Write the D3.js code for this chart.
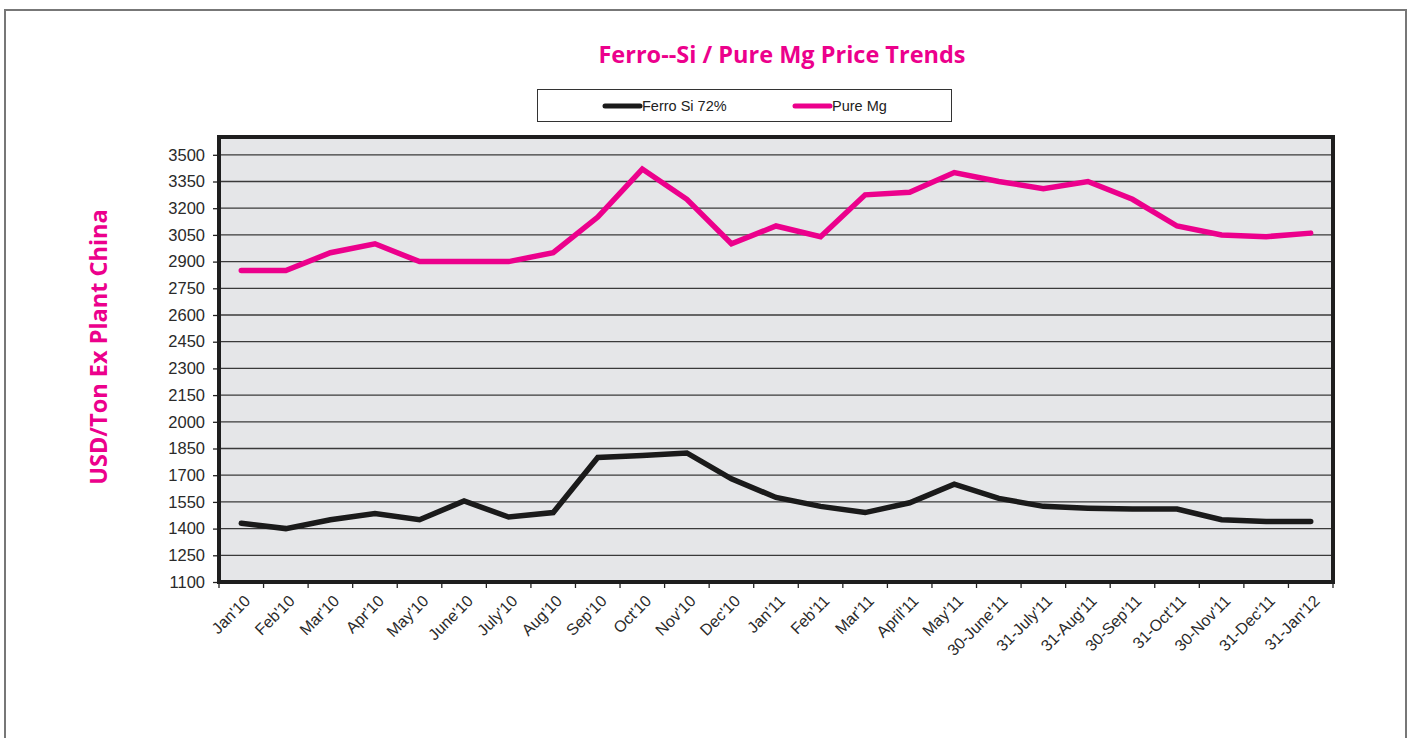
<!DOCTYPE html>
<html>
<head>
<meta charset="utf-8">
<script src="https://cdn.jsdelivr.net/npm/d3@7"></script>
<style>
  body { margin: 0; background: #fff; }
  svg { display: block; }
</style>
</head>
<body>
<div id="chart"></div>
<script>
// categories and values
const months = ["Jan'10", "Feb'10", "Mar'10", "Apr'10", "May'10", "June'10", "July'10", "Aug'10",
  "Sep'10", "Oct'10", "Nov'10", "Dec'10", "Jan'11", "Feb'11", "Mar'11", "April'11", "May'11",
  "30-June'11", "31-July'11", "31-Aug'11", "30-Sep'11", "31-Oct'11", "30-Nov'11", "31-Dec'11", "31-Jan'12"];
const ferroSi = [1430, 1400, 1450, 1485, 1450, 1555, 1465, 1490, 1800, 1810, 1825, 1680, 1575,
  1525, 1490, 1545, 1650, 1570, 1525, 1515, 1510, 1510, 1450, 1440, 1440];
const pureMg = [2850, 2850, 2950, 3000, 2900, 2900, 2900, 2950, 3150, 3420, 3250, 3000, 3100,
  3040, 3275, 3290, 3400, 3350, 3310, 3350, 3250, 3100, 3050, 3040, 3060];
const yTicks = [1100, 1250, 1400, 1550, 1700, 1850, 2000, 2150, 2300, 2450, 2600, 2750, 2900,
  3050, 3200, 3350, 3500];

const series = [
  { name: "Ferro Si 72%", values: ferroSi, color: "#1a1a1a" },
  { name: "Pure Mg", values: pureMg, color: "#ec008c" }
];

const W = 1409, H = 738;
const pink = "#ec008c";
const plot = { left: 219, top: 137, right: 1333, bottom: 582 };

const svg = d3.select("#chart").append("svg")
  .attr("width", W).attr("height", H);

// outer frame
svg.append("rect")
  .attr("x", 5).attr("y", 10).attr("width", 1401).attr("height", 760)
  .attr("fill", "none").attr("stroke", "#777").attr("stroke-width", 2);

// title
svg.append("text")
  .attr("x", 782).attr("y", 63)
  .attr("text-anchor", "middle")
  .style("font-family", "'Open Sans', sans-serif")
  .style("font-weight", "bold")
  .style("font-size", "23.5px")
  .attr("fill", pink)
  .text("Ferro--Si / Pure Mg Price Trends");

// legend
const legend = svg.append("g");
legend.append("rect")
  .attr("x", 537.5).attr("y", 89.5).attr("width", 414).attr("height", 32)
  .attr("fill", "#fff").attr("stroke", "#333").attr("stroke-width", 1);
const legX = [605, 795];
series.forEach((s, i) => {
  legend.append("line")
    .attr("x1", legX[i]).attr("x2", legX[i] + 35)
    .attr("y1", 106).attr("y2", 106)
    .attr("stroke", s.color).attr("stroke-width", 5).attr("stroke-linecap", "round");
  legend.append("text")
    .attr("x", legX[i] + 37).attr("y", 111)
    .style("font-family", "'Liberation Sans', Arial, sans-serif")
    .style("font-size", "14.5px")
    .attr("fill", "#222")
    .text(s.name);
});

// scales
const x = d3.scaleBand()
  .domain(months)
  .range([plot.left, plot.right]);

const y = d3.scaleLinear()
  .domain([1100, 3600])
  .range([plot.bottom, plot.top]);

// plot background
svg.append("rect")
  .attr("x", plot.left).attr("y", plot.top)
  .attr("width", plot.right - plot.left).attr("height", plot.bottom - plot.top)
  .attr("fill", "#e5e6e8");

// gridlines
svg.append("g")
  .selectAll("line")
  .data(yTicks.slice(1))
  .enter()
  .append("line")
  .attr("x1", plot.left).attr("x2", plot.right)
  .attr("y1", d => y(d)).attr("y2", d => y(d))
  .attr("stroke", "#3a3a3a").attr("stroke-width", 1.3);

// y axis
const yAxis = svg.append("g")
  .attr("transform", "translate(" + plot.left + ",0)")
  .call(d3.axisLeft(y).tickValues(yTicks).tickFormat(d3.format("d")).tickSize(6).tickPadding(8));
yAxis.select(".domain").remove();
yAxis.selectAll(".tick line").attr("stroke", "#222").attr("stroke-width", 1.3);
yAxis.selectAll("text")
  .style("font-family", "'Liberation Sans', Arial, sans-serif")
  .style("font-size", "16.5px")
  .attr("fill", "#2a2a2a");

// x axis: tick marks at category boundaries
const bounds = months.map(m => x(m)).concat([plot.right]);
svg.append("g")
  .selectAll("line")
  .data(bounds)
  .enter()
  .append("line")
  .attr("x1", d => d).attr("x2", d => d)
  .attr("y1", plot.bottom).attr("y2", plot.bottom + 6)
  .attr("stroke", "#222").attr("stroke-width", 1.3);

svg.append("g")
  .selectAll("text")
  .data(months)
  .enter()
  .append("text")
  .attr("transform", d => "translate(" + (x(d) + x.bandwidth() / 2 + 6) + "," + (plot.bottom + 16) + ")rotate(-45)")
  .attr("text-anchor", "end")
  .attr("dy", "0.35em")
  .style("font-family", "'Liberation Sans', Arial, sans-serif")
  .style("font-size", "16px")
  .attr("fill", "#2a2a2a")
  .text(d => d);

// y axis title
svg.append("text")
  .attr("transform", "translate(107,347)rotate(-90)")
  .attr("text-anchor", "middle")
  .style("font-family", "'Open Sans', sans-serif")
  .style("font-weight", "bold")
  .style("font-size", "23.5px")
  .attr("fill", pink)
  .text("USD/Ton Ex Plant China");

// lines
const line = d3.line()
  .x((d, i) => x(months[i]) + x.bandwidth() / 2)
  .y(d => y(d));

svg.append("g")
  .selectAll("path")
  .data(series)
  .enter()
  .append("path")
  .attr("d", d => line(d.values))
  .attr("fill", "none")
  .attr("stroke", d => d.color)
  .attr("stroke-width", 5.5)
  .attr("stroke-linejoin", "miter")
  .attr("stroke-linecap", "round");

// plot frame
svg.append("rect")
  .attr("x", plot.left).attr("y", plot.top)
  .attr("width", plot.right - plot.left).attr("height", plot.bottom - plot.top)
  .attr("fill", "none").attr("stroke", "#1e1e1e").attr("stroke-width", 4);
</script>
</body>
</html>
